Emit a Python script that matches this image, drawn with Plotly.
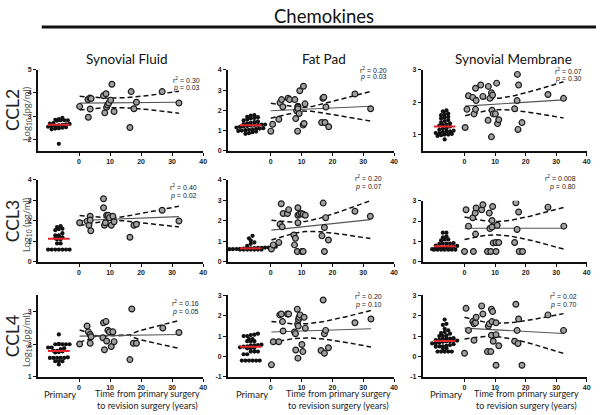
import numpy as np
import plotly.graph_objects as go

W, H = 600, 415

# ---------------- data ----------------
chemokines = ["CCL2", "CCL3", "CCL4"]
tissues = ["Synovial Fluid", "Fat Pad", "Synovial Membrane"]

# primary (median shown as red bar)
ccl2_sf_primary = [2.92, 2.87, 2.84, 2.82, 2.82, 2.82, 2.8, 2.7, 2.68, 2.66, 2.64, 2.62, 2.6, 2.58, 2.56, 2.54, 2.52, 2.5, 2.48, 2.46, 2.43, 1.8]
ccl2_fp_primary = [1.76, 1.74, 1.68, 1.66, 1.62, 1.6, 1.55, 1.5, 1.45, 1.42, 1.38, 1.35, 1.32, 1.3, 1.3, 1.28, 1.28, 1.25, 1.22, 1.2, 1.18, 1.15, 1.12, 1.1, 1.08, 1.06, 1.04, 1.02, 1.0, 0.98, 0.95, 0.92, 0.87, 0.84]
ccl2_sm_primary = [1.75, 1.72, 1.65, 1.63, 1.6, 1.55, 1.53, 1.5, 1.45, 1.42, 1.38, 1.35, 1.32, 1.3, 1.28, 1.25, 1.2, 1.18, 1.15, 1.12, 1.1, 1.1, 1.08, 1.05, 1.05, 1.02, 1.0, 1.0, 0.98, 0.96, 0.85]
ccl3_sf_primary = [1.75, 1.7, 1.62, 1.55, 1.6, 1.4, 1.3, 1.3, 1.2, 1.2, 1.15, 1.1, 1.1, 0.9, 0.9, 0.6, 0.6, 0.6, 0.6, 0.6, 0.6, 0.6]
ccl3_fp_primary = [1.27, 1.15, 1.04, 0.95, 0.88, 0.78, 0.74, 0.72, 0.7, 0.7, 0.68, 0.68, 0.67, 0.66, 0.66, 0.65, 0.64, 0.63, 0.62, 0.62, 0.61, 0.6, 0.6, 0.6, 0.6, 0.6, 0.6, 0.6]
ccl3_sm_primary = [1.43, 1.43, 1.25, 1.2, 1.1, 1.1, 1.05, 0.92, 0.9, 0.9, 0.9, 0.88, 0.8, 0.78, 0.76, 0.75, 0.72, 0.7, 0.68, 0.65, 0.62, 0.6, 0.6, 0.6, 0.6, 0.6, 0.6, 0.6]
ccl4_sf_primary = [2.3, 2.01, 2.0, 2.0, 2.0, 2.0, 2.0, 1.9, 1.9, 1.88, 1.85, 1.8, 1.8, 1.78, 1.76, 1.75, 1.6, 1.58, 1.58, 1.58, 1.58, 1.58, 1.48, 1.48, 1.48, 1.38]
ccl4_fp_primary = [1.12, 1.05, 1.0, 1.0, 1.07, 0.85, 0.85, 0.75, 0.75, 0.75, 0.58, 0.56, 0.55, 0.55, 0.5, 0.48, 0.45, 0.42, 0.4, 0.4, 0.24, 0.24, 0.24, 0.11, 0.11, -0.2, -0.2, -0.2, -0.2, -0.2, -0.2]
ccl4_sm_primary = [1.81, 1.6, 1.55, 1.36, 1.28, 1.2, 1.15, 1.12, 1.04, 1.0, 1.0, 0.9, 0.88, 0.88, 0.86, 0.82, 0.8, 0.78, 0.76, 0.75, 0.74, 0.72, 0.68, 0.65, 0.64, 0.6, 0.56, 0.52, 0.5, 0.5, 0.48, 0.4, 0.4, 0.24, 0.24, 0.24, 0.24, 0.24]

# revision: years since primary surgery and value
ccl2_sf_years = [0.2, 3.0, 2.9, 3.5, 3.9, 3.6, 7.9, 8.7, 8.3, 8.9, 9.2, 9.6, 10.2, 10.6, 11.3, 16.4, 16.8, 17.7, 18.5, 26.8, 32.2]
ccl2_sf_values = [3.42, 2.95, 3.72, 3.78, 3.76, 3.31, 3.88, 3.97, 3.14, 3.38, 3.48, 3.57, 3.69, 4.38, 3.2, 2.51, 4.06, 3.32, 3.6, 4.06, 3.57]
ccl2_fp_years = [0.0, 0.6, 2.6, 3.0, 3.5, 3.9, 5.6, 6.1, 7.8, 8.1, 8.4, 8.7, 8.8, 8.8, 8.8, 9.2, 9.4, 10.5, 10.6, 10.8, 11.1, 16.5, 16.9, 17.2, 17.6, 17.9, 18.8, 27.3, 32.4]
ccl2_fp_values = [0.97, 1.31, 1.56, 2.37, 2.53, 2.18, 2.6, 2.53, 2.53, 1.59, 1.98, 0.97, 2.2, 2.16, 2.08, 1.84, 2.97, 1.27, 3.19, 1.35, 2.32, 1.4, 2.6, 2.65, 1.4, 2.16, 1.19, 2.81, 2.08]
ccl2_sm_years = [0.2, 0.8, 1.3, 2.7, 3.1, 3.6, 3.8, 3.6, 5.3, 6.0, 7.8, 7.7, 8.3, 8.8, 9.2, 9.0, 9.4, 10.1, 8.8, 10.5, 10.8, 11.2, 16.4, 17.2, 17.7, 17.5, 18.8, 27.3, 32.4, 17.3]
ccl2_sm_values = [1.22, 1.78, 2.2, 2.15, 1.64, 1.78, 2.05, 2.43, 2.53, 2.18, 2.49, 1.44, 2.12, 2.29, 2.22, 1.75, 1.64, 1.64, 0.93, 2.59, 1.34, 1.46, 1.8, 2.05, 2.53, 1.16, 1.37, 2.24, 2.12, 2.86]
ccl3_sf_years = [0.2, 2.6, 3.2, 3.6, 3.6, 3.8, 7.9, 8.2, 8.5, 8.9, 9.4, 9.8, 10.4, 10.9, 11.3, 16.4, 17.7, 18.5, 26.8, 32.2, 7.9]
ccl3_sf_values = [1.91, 1.99, 1.79, 2.23, 2.04, 1.52, 2.64, 1.79, 1.91, 2.28, 2.28, 2.16, 1.79, 2.23, 1.96, 1.2, 1.79, 1.84, 2.52, 2.0, 3.08]
ccl3_fp_years = [0.2, 0.8, 2.6, 3.0, 3.7, 3.4, 4.0, 5.4, 5.8, 7.5, 8.0, 7.7, 8.6, 8.8, 8.8, 9.3, 9.9, 10.5, 11.2, 8.8, 10.1, 10.5, 16.6, 17.0, 17.4, 17.8, 17.4, 18.7, 27.3, 32.3]
ccl3_fp_values = [0.63, 0.83, 0.95, 1.84, 1.71, 2.84, 2.36, 2.36, 2.55, 1.31, 1.15, 0.83, 0.51, 2.64, 2.28, 2.33, 2.36, 2.33, 2.28, 1.91, 0.51, 0.51, 1.27, 2.87, 1.68, 2.16, 0.51, 1.07, 2.47, 2.23]
ccl3_sm_years = [0.0, 0.5, 1.3, 2.7, 2.9, 3.5, 3.8, 3.6, 5.6, 6.0, 7.5, 8.6, 10.3, 8.1, 8.3, 9.0, 9.2, 9.0, 9.4, 10.3, 11.2, 10.7, 16.4, 16.8, 17.2, 17.7, 17.9, 19.0, 27.3, 32.5]
ccl3_sm_values = [0.51, 2.55, 1.75, 2.16, 0.51, 2.39, 2.64, 1.36, 2.55, 2.8, 0.51, 0.51, 0.51, 2.39, 1.63, 1.71, 2.71, 2.03, 0.93, 0.95, 0.95, 1.79, 0.95, 2.9, 1.59, 2.44, 0.51, 0.51, 2.68, 1.75]
ccl4_sf_years = [0.2, 2.6, 3.0, 3.6, 3.9, 3.6, 7.7, 7.9, 8.7, 8.2, 8.9, 9.3, 9.8, 10.4, 10.9, 11.3, 16.4, 17.0, 17.5, 18.5, 27.0, 32.2]
ccl4_sf_values = [2.01, 2.56, 2.38, 2.3, 2.23, 2.03, 2.2, 2.66, 2.7, 1.83, 2.1, 2.43, 2.38, 1.93, 2.38, 2.08, 1.53, 3.08, 2.03, 2.03, 2.5, 2.36]
ccl4_fp_years = [0.2, 0.8, 2.6, 2.9, 3.4, 3.8, 4.0, 5.4, 5.8, 7.7, 8.0, 8.1, 8.6, 8.7, 8.9, 9.0, 9.2, 8.8, 9.5, 10.1, 10.4, 10.8, 11.2, 16.3, 17.0, 17.4, 17.4, 17.8, 18.7, 27.3, 32.5]
ccl4_fp_values = [-0.4, 0.72, 0.72, 2.04, 2.08, 1.71, 1.25, 2.08, 2.08, 1.2, 1.12, 0.32, 2.32, 1.6, 1.49, 1.81, 1.92, -0.08, 2.04, 0.59, 0.24, 1.92, 1.39, 0.29, 2.77, 0.16, 1.12, 1.28, 0.43, 1.65, 1.84]
ccl4_sm_years = [0.0, 0.5, 1.3, 2.7, 3.1, 3.6, 3.8, 3.1, 5.6, 6.0, 7.5, 8.6, 7.8, 8.1, 8.8, 9.2, 8.8, 9.0, 9.4, 10.3, 10.3, 10.3, 11.2, 16.4, 16.8, 17.2, 17.5, 17.7, 18.8, 27.3, 32.4]
ccl4_sm_values = [0.16, 2.36, 1.28, 1.71, 1.6, 1.65, 1.92, 0.8, 2.48, 2.08, 0.24, 0.24, 1.49, 1.6, 2.32, 2.2, 1.04, 1.71, 0.75, 1.65, 1.07, -0.43, 0.53, 0.75, 2.56, 1.28, 0.64, 1.84, -0.43, 2.04, 1.28]

# linear-regression summary (Log10 units)
fit_at_0 = [3.56, 1.98, 1.88, 2.02, 1.55, 1.65, 2.25, 1.20, 1.39]
fit_at_32 = [3.60, 2.20, 2.07, 2.21, 2.06, 1.65, 2.30, 1.36, 1.13]
ci_half_at_0 = [0.30, 0.37, 0.30, 0.25, 0.49, 0.55, 0.19, 0.52, 0.53]
ci_half_at_32 = [0.47, 0.72, 0.55, 0.50, 0.91, 1.00, 0.42, 0.88, 0.96]

r2_labels = ["0.30", "0.20", "0.07", "0.40", "0.20", "0.008", "0.16", "0.20", "0.02"]
p_labels = ["0.03", "0.03", "0.30", "0.02", "0.07", "0.80", "0.05", "0.10", "0.70"]

y_ranges = [(1.5, 5), (0, 4), (0.5, 3), (0, 4), (0, 4), (0, 3), (1, 3.5), (-1, 3), (-1, 3)]
x_ticks = [0, 10, 20, 30, 40]

primary_sets = [ccl2_sf_primary, ccl2_fp_primary, ccl2_sm_primary,
                ccl3_sf_primary, ccl3_fp_primary, ccl3_sm_primary,
                ccl4_sf_primary, ccl4_fp_primary, ccl4_sm_primary]
rev_years = [ccl2_sf_years, ccl2_fp_years, ccl2_sm_years,
             ccl3_sf_years, ccl3_fp_years, ccl3_sm_years,
             ccl4_sf_years, ccl4_fp_years, ccl4_sm_years]
rev_values = [ccl2_sf_values, ccl2_fp_values, ccl2_sm_values,
              ccl3_sf_values, ccl3_fp_values, ccl3_sm_values,
              ccl4_sf_values, ccl4_fp_values, ccl4_sm_values]

# ---------------- layout geometry (pixels) ----------------
col_px = [(38, 204.5), (229.5, 396.7), (425.5, 590.7)]
col_xrange = [(-13.3, 40), (-13.9, 40), (-13.7, 40)]
row_bottom = [149.3, 262.3, 379.3]
panel_top = [67, 67, 67, 179, 179, 200, 296.3, 296.3, 296.3]
primary_center = -6.5
median_half = 3.5
r2_pos = [(203, 77, 85), (392, 67, 74), (588, 68, 76),
          (200, 186, 195), (387, 177, 186), (582, 177, 186),
          (202, 304, 313), (387, 297, 306), (583, 297, 306)]

FONT = "Lato"
TICKFONT = dict(family="Liberation Sans", size=7, color="#222")


def px2x(px):
    return px / W


def px2y(py):
    return 1 - py / H


def swarm_offsets(vals, yppu, xppu, pitch=3.6):
    vals = np.asarray(vals, float)
    bins = np.round(vals * yppu / pitch).astype(int)
    offs = np.zeros(len(vals))
    for b in np.unique(bins):
        idx = np.where(bins == b)[0]
        idx = idx[np.argsort(vals[idx])]
        k = len(idx)
        for j, i in enumerate(idx):
            offs[i] = (j - (k - 1) / 2) * pitch / xppu
    return offs


def label(x, y, text, size, color="#222", family=FONT, xanchor="center", angle=0):
    return dict(x=px2x(x), y=px2y(y), xref="paper", yref="paper", text=text,
                showarrow=False, xanchor=xanchor, yanchor="middle", textangle=angle,
                font=dict(family=family, size=size, color=color))


fig = go.Figure()
annotations = []
shapes = []

for k in range(9):
    r, c = divmod(k, 3)
    n = k + 1
    xa = "x" if n == 1 else f"x{n}"
    ya = "y" if n == 1 else f"y{n}"
    x0p, x1p = col_px[c]
    xr = col_xrange[c]
    yr = y_ranges[k]
    top = panel_top[k]
    bot = row_bottom[r]
    xppu = (x1p - x0p) / (xr[1] - xr[0])
    yppu = (bot - top) / (yr[1] - yr[0])

    lay_x = "xaxis" if n == 1 else f"xaxis{n}"
    lay_y = "yaxis" if n == 1 else f"yaxis{n}"
    fig.layout[lay_x] = dict(
        domain=[px2x(x0p), px2x(x1p)], range=list(xr), anchor=ya,
        showline=True, linecolor="#111", linewidth=1.6, ticks="outside",
        ticklen=3, tickwidth=1.4, tickcolor="#111", showgrid=False, zeroline=False,
        tickvals=x_ticks, ticktext=[f"<b>{t}</b>" for t in x_ticks],
        tickfont=TICKFONT, fixedrange=True)
    yt = list(range(int(np.ceil(yr[0])), int(np.floor(yr[1])) + 1))
    fig.layout[lay_y] = dict(
        domain=[px2y(bot), px2y(top)], range=list(yr), anchor=xa,
        showline=True, linecolor="#111", linewidth=1.6, ticks="outside",
        ticklen=3, tickwidth=1.4, tickcolor="#111", showgrid=False, zeroline=False,
        tickvals=yt, ticktext=[f"<b>{t}</b>" for t in yt],
        tickfont=TICKFONT, fixedrange=True)

    # primary group
    pv = np.asarray(primary_sets[k], float)
    offs = swarm_offsets(pv, yppu, xppu)
    fig.add_trace(go.Scatter(
        x=primary_center + offs, y=pv, mode="markers", xaxis=xa, yaxis=ya,
        marker=dict(size=4.2, color="#111", line=dict(width=0)), showlegend=False))
    med = float(np.median(pv))
    fig.add_trace(go.Scatter(
        x=[primary_center - median_half, primary_center + median_half], y=[med, med],
        mode="lines", xaxis=xa, yaxis=ya, line=dict(color="#e3262b", width=2),
        showlegend=False))

    # regression line with 95% confidence band (hyperbolic, centred on mean year)
    xs = np.asarray(rev_years[k], float)
    xm = xs.mean()
    h0, h32 = ci_half_at_0[k], ci_half_at_32[k]
    kk = (h32**2 - h0**2) / ((32 - xm)**2 - xm**2)
    aa = h0**2 - kk * xm**2
    xg = np.linspace(xs.min(), xs.max(), 60)
    slope = (fit_at_32[k] - fit_at_0[k]) / 32.0
    yg = fit_at_0[k] + slope * xg
    half = np.sqrt(np.maximum(aa + kk * (xg - xm)**2, 1e-6))
    for yy in (yg + half, yg - half):
        fig.add_trace(go.Scatter(x=xg, y=yy, mode="lines", xaxis=xa, yaxis=ya,
                                 line=dict(color="#111", width=1.5, dash="5px,3px"),
                                 showlegend=False))
    fig.add_trace(go.Scatter(x=xg, y=yg, mode="lines", xaxis=xa, yaxis=ya,
                             line=dict(color="#555", width=1.1), showlegend=False))
    fig.add_trace(go.Scatter(
        x=xs, y=rev_values[k], mode="markers", xaxis=xa, yaxis=ya,
        marker=dict(size=5.8, color="#a0a0a0", line=dict(color="#1a1a1a", width=1.2)),
        showlegend=False))

    rx, ry1, ry2 = r2_pos[k]
    annotations.append(label(rx, ry1, f"r<sup>2</sup> = {r2_labels[k]}", 7,
                             family="Liberation Sans", xanchor="right"))
    annotations.append(label(rx, ry2, f"<i>p</i> = {p_labels[k]}", 7,
                             family="Liberation Sans", xanchor="right"))

# titles
annotations.append(label(326, 12, "Chemokines", 18.5, color="#111"))
shapes.append(dict(type="line", xref="paper", yref="paper", x0=px2x(42), x1=px2x(600),
                   y0=px2y(23.5), y1=px2y(23.5), line=dict(color="#111", width=3)))
for name, cx in zip(tissues, [128, 326, 517]):
    annotations.append(label(cx, 56, name, 13.5, color="#111"))
for name, cy in zip(chemokines, [108, 221, 338]):
    annotations.append(label(12, cy, name, 17.5, angle=-90))
    annotations.append(label(27, cy + 3, "Log<sub>10</sub> (pg/ml)", 9.5, color="#555", angle=-90))
for pcx, tcx in [(60, 148), (254, 341), (449, 530)]:
    annotations.append(label(pcx, 397, "Primary", 9.5))
    annotations.append(label(tcx, 402.5, "Time from primary surgery<br>to revision surgery (years)", 9))

fig.update_layout(width=W, height=H, margin=dict(l=0, r=0, t=0, b=0),
                  paper_bgcolor="white", plot_bgcolor="white",
                  annotations=annotations, shapes=shapes, showlegend=False)

fig.write_html("out.html", config={"displayModeBar": False},
               post_script="document.body.style.margin='0px';")
